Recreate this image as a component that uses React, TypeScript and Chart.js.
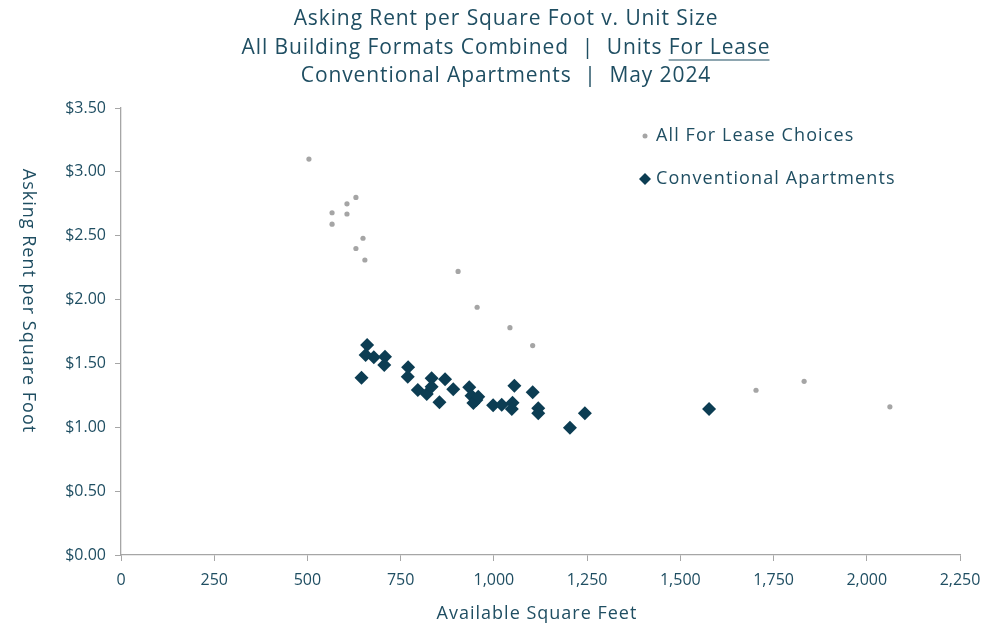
import React, { useEffect, useRef } from "react";
import { Chart, registerables } from "chart.js";

Chart.register(...registerables);

const titleLines = [
  "Asking Rent per Square Foot v. Unit Size",
  "All Building Formats Combined  |  Units ",
  "Conventional Apartments  |  May 2024",
];
const underlinedPart = "For Lease";
const xAxisTitle = "Available Square Feet";
const yAxisTitle = "Asking Rent per Square Foot";
const legendLabels = ["All For Lease Choices", "Conventional Apartments"];

const allSqft = [504, 630, 606, 566, 606, 566, 649, 630, 654, 904, 955, 1043, 1104, 1703, 1832, 2062];
const allRent = [3.10, 2.80, 2.75, 2.68, 2.67, 2.59, 2.48, 2.40, 2.31, 2.22, 1.94, 1.78, 1.64, 1.29, 1.36, 1.16];

const convSqft = [660, 656, 678, 708, 706, 645, 770, 769, 796, 820, 833, 833, 869, 891, 854, 934, 940, 953, 945, 958, 998, 1021, 1050, 1048, 1055, 1104, 1119, 1119, 1244, 1204, 1577];
const convRent = [1.645, 1.566, 1.548, 1.553, 1.488, 1.388, 1.470, 1.396, 1.292, 1.261, 1.384, 1.318, 1.376, 1.298, 1.196, 1.313, 1.247, 1.214, 1.19, 1.24, 1.172, 1.177, 1.193, 1.143, 1.326, 1.274, 1.149, 1.110, 1.110, 0.997, 1.143];

const xTicks = [0, 250, 500, 750, 1000, 1250, 1500, 1750, 2000, 2250];
const yTicks = [0, 0.5, 1, 1.5, 2, 2.5, 3, 3.5];

const FONT = "'Open Sans', sans-serif";
const TEXT = "#1F4E62";
const NAVY = "#0C3D53";
const GRAY = "#A5A5A5";
const AXIS = "#A6A6A6";

const textPlugin = {
  id: "customText",
  afterDraw(chart: any) {
    const ctx = chart.ctx as any;
    const area = chart.chartArea;
    ctx.save();
    ctx.fillStyle = TEXT;
    ctx.textBaseline = "middle";
    ctx.textAlign = "left";
    ctx.font = `21px ${FONT}`;
    ctx.letterSpacing = "0.9px";
    const cx = 498;
    const ys = [11, 40, 68];
    [0, 2].forEach((i) => {
      const w = ctx.measureText(titleLines[i]).width;
      ctx.fillText(titleLines[i], cx - w / 2, ys[i]);
    });
    const w1 = ctx.measureText(titleLines[1]).width;
    const w2 = ctx.measureText(underlinedPart).width;
    const start = cx - (w1 + w2) / 2;
    ctx.fillText(titleLines[1], start, ys[1]);
    ctx.fillText(underlinedPart, start + w1, ys[1]);
    ctx.strokeStyle = TEXT;
    ctx.lineWidth = 1.2;
    ctx.beginPath();
    ctx.moveTo(start + w1, ys[1] + 12);
    ctx.lineTo(start + w1 + w2 - 1, ys[1] + 12);
    ctx.stroke();

    // x axis title
    ctx.font = `18px ${FONT}`;
    ctx.letterSpacing = "1px";
    const xw = ctx.measureText(xAxisTitle).width;
    ctx.fillText(xAxisTitle, 529 - xw / 2, 606);

    // y axis title, reading top to bottom
    const yw = ctx.measureText(yAxisTitle).width;
    ctx.save();
    ctx.translate(20, 293 - yw / 2);
    ctx.rotate(Math.PI / 2);
    ctx.fillText(yAxisTitle, 0, 0);
    ctx.restore();

    // legend
    ctx.font = `18px ${FONT}`;
    ctx.letterSpacing = "1.1px";
    const lx = 637;
    ctx.fillStyle = GRAY;
    ctx.beginPath();
    ctx.arc(lx, 128, 2.5, 0, Math.PI * 2);
    ctx.fill();
    ctx.fillStyle = TEXT;
    ctx.fillText(legendLabels[0], 648, 128);
    ctx.fillStyle = NAVY;
    ctx.beginPath();
    ctx.moveTo(lx, 171 - 6);
    ctx.lineTo(lx + 6, 171);
    ctx.lineTo(lx, 171 + 6);
    ctx.lineTo(lx - 6, 171);
    ctx.closePath();
    ctx.fill();
    ctx.fillStyle = TEXT;
    ctx.fillText(legendLabels[1], 648, 171);
    ctx.restore();
  },
};

export default function App() {
  const ref = useRef<HTMLCanvasElement>(null);
  useEffect(() => {
    if (!ref.current) return;
    const chart = new Chart(ref.current, {
      type: "scatter",
      data: {
        datasets: [
          {
            label: legendLabels[0],
            data: allSqft.map((x, i) => ({ x, y: allRent[i] })),
            backgroundColor: GRAY,
            borderColor: GRAY,
            pointStyle: "circle",
            pointRadius: 2.6,
            borderWidth: 0,
          },
          {
            label: legendLabels[1],
            data: convSqft.map((x, i) => ({ x, y: convRent[i] })),
            backgroundColor: NAVY,
            borderColor: NAVY,
            pointStyle: "rectRot",
            pointRadius: 7,
            borderWidth: 0,
          },
        ],
      },
      options: {
        animation: false,
        responsive: false,
        layout: { padding: { top: 100, right: 31, left: 0, bottom: 0 } },
        plugins: { legend: { display: false }, title: { display: false }, tooltip: { enabled: false } },
        scales: {
          x: {
            type: "linear",
            min: 0,
            max: 2250,
            afterFit: (s: any) => { s.height = 71; },
            afterBuildTicks: (s: any) => { s.ticks = xTicks.map((v) => ({ value: v })); },
            ticks: {
              color: TEXT,
              font: { family: FONT, size: 16 },
              padding: 10,
              callback: (v: any) => Number(v).toLocaleString("en-US"),
            },
            grid: { drawOnChartArea: false, drawTicks: true, tickLength: 6, color: AXIS },
            border: { display: true, color: AXIS, width: 1.3 },
          },
          y: {
            type: "linear",
            min: 0,
            max: 3.5,
            afterFit: (s: any) => { s.width = 113; },
            afterBuildTicks: (s: any) => { s.ticks = yTicks.map((v) => ({ value: v })); },
            ticks: {
              color: TEXT,
              font: { family: FONT, size: 16 },
              padding: 9,
              callback: (v: any) => "$" + Number(v).toFixed(2),
            },
            grid: { drawOnChartArea: false, drawTicks: true, tickLength: 6, color: AXIS },
            border: { display: true, color: AXIS, width: 1.3 },
          },
        },
      },
      plugins: [textPlugin],
    });
    return () => chart.destroy();
  }, []);
  return (
    <div style={{ width: 983, height: 618 }}>
      <canvas ref={ref} width={983} height={618} style={{ display: "block" }} />
    </div>
  );
}
